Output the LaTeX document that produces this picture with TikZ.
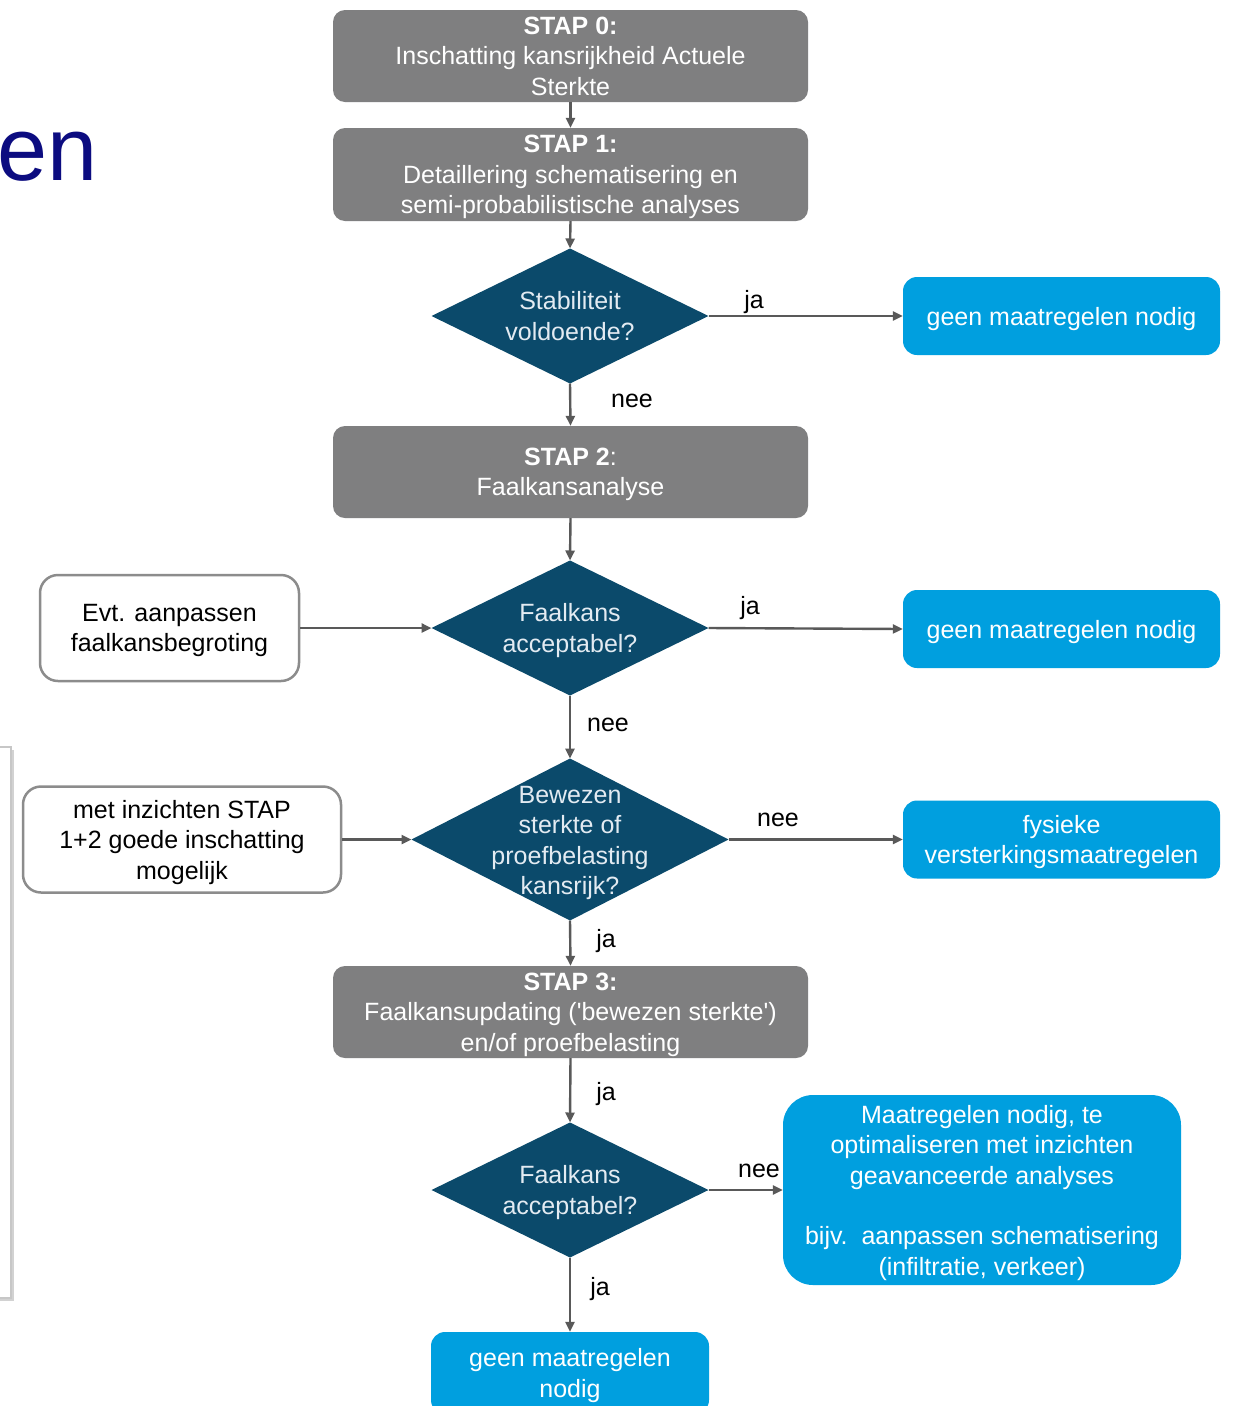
\documentclass[tikz,border=0pt]{standalone}
\usepackage{fontspec}
\setmainfont{Liberation Sans}
\usetikzlibrary{shapes.geometric,arrows.meta,shadows}
\definecolor{stapgray}{HTML}{7F7F80}
\definecolor{diablue}{HTML}{0B4A6B}
\definecolor{actblue}{HTML}{009FDF}
\definecolor{arrowgray}{HTML}{595959}
\definecolor{titleblue}{HTML}{0C0C80}
\definecolor{diatext}{HTML}{E3EBF2}
\definecolor{noteborder}{HTML}{8C8C8C}
\newcommand\nodp[1]{\raisebox{0pt}[\height][0pt]{#1}}
\tikzset{
  txt/.style={font=\fontsize{25}{30.5}\selectfont, align=center},
  stapbox/.style={txt, rectangle, rounded corners=12pt, fill=stapgray, text=white,
    minimum width=475pt, inner sep=0pt},
  actbox/.style={txt, rectangle, rounded corners=14pt, fill=actblue, text=white, inner sep=0pt},
  notebox/.style={txt, rectangle, rounded corners=18pt, draw=noteborder, line width=2.5pt,
    fill=white, text=black, inner sep=0pt},
  decision/.style={diamond, fill=diablue, inner sep=0pt, outer sep=0pt},
  dtext/.style={txt, text=diatext, inner sep=0pt},
  lbl/.style={font=\fontsize{25}{30}\selectfont, text=black, anchor=base, inner sep=0pt},
  conn/.style={draw=arrowgray, line width=2.4pt, -{Triangle[length=10pt,width=9pt]}},
}
\begin{document}
\begin{tikzpicture}[x=1pt,y=-1pt]
\clip (0,0) rectangle (1235,1406);
\fill[white] (0,0) rectangle (1235,1406);

% partial title and side panel
\node[anchor=base west, inner sep=0pt, font=\fontsize{90}{100}\selectfont, text=titleblue] (title) at (-3,180) {en};
\draw[draw=black!22, line width=1.2pt, fill=white,
  drop shadow={shadow xshift=2.5pt, shadow yshift=-2.5pt, opacity=0.35}] (-40,747) rectangle (11,1298);

% main column
\node[stapbox, minimum height=92pt] (s0) at (570.5,56) {\textbf{STAP 0:}\\Inschatting kansrijkheid Actuele\\Sterkte};
\node[stapbox, minimum height=93pt] (s1) at (570.5,174.5) {\textbf{STAP 1:}\\Detaillering schematisering en\\\nodp{semi-probabilistische analyses}};
\node[decision, minimum width=277pt, minimum height=135pt] (d1) at (570,316) {};
\node[dtext] (d1t) at (d1.center) {Stabiliteit\\voldoende?};
\node[actbox, minimum width=317pt, minimum height=78pt] (g1) at (1061.5,316) {\nodp{geen maatregelen nodig}};

\node[stapbox, minimum height=92pt] (s2) at (570.5,472) {\textbf{STAP 2}:\\\nodp{Faalkansanalyse}};
\node[decision, minimum width=277pt, minimum height=135pt] (d2) at (570,628) {};
\node[dtext] (d2t) at (d2.center) {Faalkans\\\nodp{acceptabel?}};
\node[notebox, minimum width=259pt, minimum height=106pt] (e1) at (169.5,628) {Evt. aanpassen\\\nodp{faalkansbegroting}};
\node[actbox, minimum width=317pt, minimum height=78pt] (g2) at (1061.5,629) {\nodp{geen maatregelen nodig}};

\node[decision, minimum width=317pt, minimum height=162pt] (d3) at (570,839.5) {};
\node[dtext] (d3t) at (570,840.5) {Bewezen\\sterkte of\\proefbelasting\\\nodp{kansrijk?}};
\node[notebox, minimum width=318pt, minimum height=106pt] (e2) at (182,839.5) {met inzichten STAP\\1+2 goede inschatting\\\nodp{mogelijk}};
\node[actbox, minimum width=317pt, minimum height=78pt] (g3) at (1061.5,839.5) {fysieke\\\nodp{versterkingsmaatregelen}};

\node[stapbox, minimum height=92pt] (s3) at (570.5,1012) {\textbf{STAP 3:}\\Faalkansupdating (\textquotesingle bewezen sterkte\textquotesingle)\\\nodp{en/of proefbelasting}};
\node[decision, minimum width=277pt, minimum height=135pt] (d4) at (570,1190) {};
\node[dtext] (d4t) at (d4.center) {Faalkans\\\nodp{acceptabel?}};
\node[actbox, rounded corners=30pt, minimum width=398pt, minimum height=190pt] (g4) at (982,1190)
  {Maatregelen nodig, te\\optimaliseren met inzichten\\geavanceerde analyses\\[30pt]bijv.\ \ aanpassen schematisering\\\nodp{(infiltratie, verkeer)}};
\node[actbox, minimum width=278pt, minimum height=82pt] (g5) at (570,1373) {geen maatregelen\\\nodp{nodig}};

% connectors
\draw[conn] (s0.south) -- (s1.north);
\draw[conn] (s1.south) -- (d1.north);
\draw[conn] (d1.east) -- (g1.west);
\draw[conn] (d1.south) -- (s2.north);
\draw[conn] (s2.south) -- (d2.north);
\draw[conn] (e1.east) -- (d2.west);
\draw[conn] (d2.east) -- (g2.west);
\draw[conn] (d2.south) -- (d3.north);
\draw[conn] (e2.east) -- (d3.west);
\draw[conn] (d3.east) -- (g3.west);
\draw[conn] (d3.south) -- (s3.north);
\draw[conn] (s3.south) -- (d4.north);
\draw[conn] (d4.east) -- (g4.west);
\draw[conn] (d4.south) -- (g5.north);

% labels
\node[lbl] (l1) at (754,308) {ja};
\node[lbl] (l2) at (632,407) {nee};
\node[lbl] (l3) at (750,614) {ja};
\node[lbl] (l4) at (608,731) {nee};
\node[lbl] (l5) at (778,826) {nee};
\node[lbl] (l6) at (606,947) {ja};
\node[lbl] (l7) at (606,1100) {ja};
\node[lbl] (l8) at (759,1177) {nee};
\node[lbl] (l9) at (600,1295) {ja};
\end{tikzpicture}
\end{document}
